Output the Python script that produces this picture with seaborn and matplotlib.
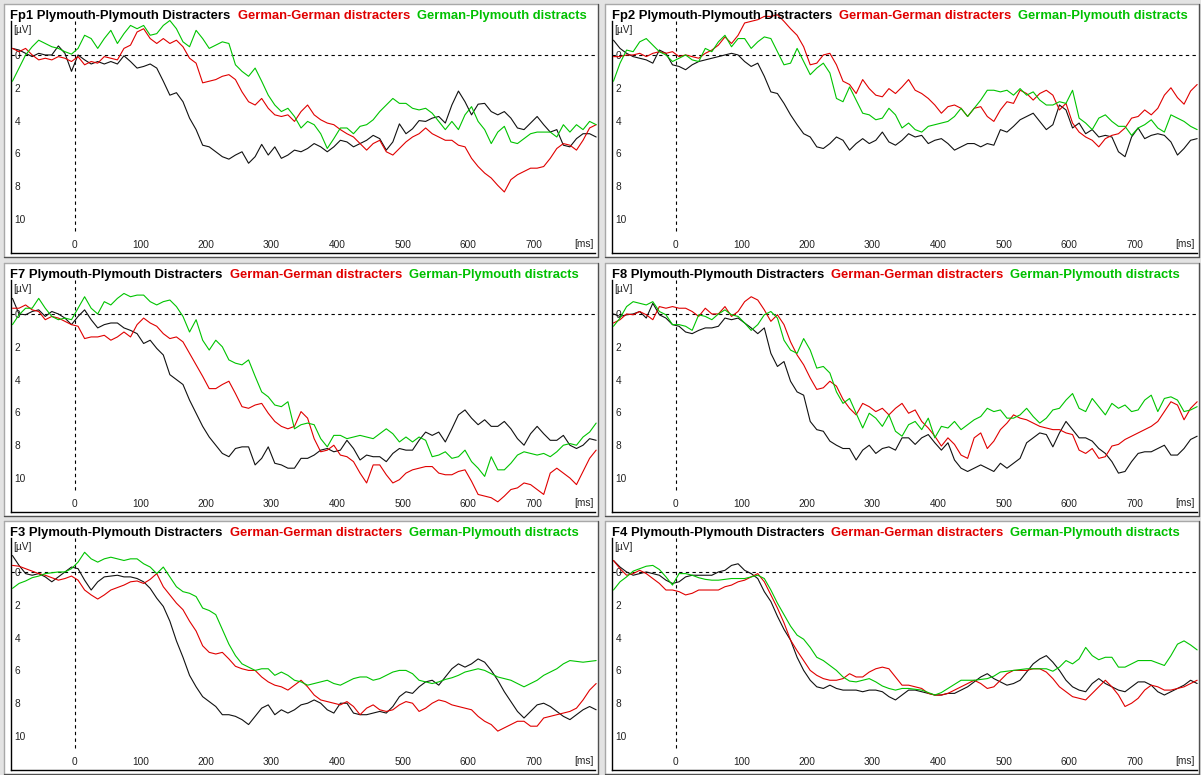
import numpy as np
import pandas as pd
import matplotlib
matplotlib.use("Agg")
import matplotlib.pyplot as plt
import seaborn as sns
from matplotlib.patches import Rectangle
from matplotlib.lines import Line2D

W, H = 1201, 775

# sample times (ms), one value every 10 ms
times = np.arange(-95, 800, 10)

channels = ["Fp1", "Fp2", "F7", "F8", "F3", "F4"]
conditions = ["Plymouth-Plymouth Distracters", "German-German distracters", "German-Plymouth distracts"]
colors = ["#111111", "#e00000", "#00c400"]
title_colors = ["#000000", "#e00000", "#00c000"]

# amplitudes in µV (plotted with negative up)
fp1_pp = [-0.4, -0.3, -0.1, 0.1, -0.1, 0.0, 0.0, -0.55, -0.1, 1.0,
          0.0, 0.3, 0.55, 0.4, 0.55, 0.4, 0.55, 0.05, 0.4, 0.8,
          0.7, 0.55, 0.8, 1.6, 2.45, 2.3, 2.85, 3.85, 4.55, 5.5,
          5.6, 5.9, 6.2, 6.35, 6.1, 5.9, 6.6, 6.2, 5.45, 6.1,
          5.6, 6.3, 6.1, 5.8, 5.9, 5.7, 5.4, 5.6, 5.9, 5.6,
          5.2, 5.3, 5.6, 5.4, 5.2, 4.9, 5.1, 5.8, 5.3, 4.2,
          4.8, 4.5, 4.0, 4.05, 3.85, 3.75, 4.15, 3.05, 2.2, 2.85,
          3.65, 3.0, 2.95, 3.45, 3.65, 3.45, 3.85, 4.45, 4.55, 4.15,
          3.75, 4.25, 4.7, 4.55, 5.5, 5.6, 5.1, 4.8, 4.8, 5.0]
fp1_gg = [-0.4, -0.2, -0.4, 0.0, 0.3, 0.2, 0.3, 0.1, 0.2, 0.4,
          0.1, 0.6, 0.4, 0.5, 0.1, 0.2, 0.3, -0.4, -0.6, -1.4,
          -1.6, -1.0, -0.7, -1.0, -0.7, -0.9, -0.5, 0.2, 0.5, 1.7,
          1.6, 1.5, 1.3, 1.2, 1.5, 2.25, 2.85, 3.05, 2.65, 3.25,
          3.65, 3.75, 3.65, 4.05, 3.45, 3.05, 3.65, 3.95, 4.15, 4.25,
          4.55, 4.8, 5.0, 5.4, 5.8, 5.4, 5.2, 5.9, 6.1, 5.7,
          5.3, 5.0, 4.8, 4.45, 4.8, 5.0, 5.2, 5.2, 5.5, 5.6,
          6.3, 6.8, 7.2, 7.5, 7.95, 8.35, 7.6, 7.3, 7.1, 6.9,
          6.9, 6.8, 6.3, 5.7, 5.4, 5.5, 5.8, 5.2, 4.45, 4.25]
fp1_gp = [1.6, 0.8, 0.0, -0.5, -0.9, -0.7, -0.5, -0.4, -0.2, -0.05,
          -0.4, -1.2, -1.0, -0.4, -1.0, -1.5, -0.7, -1.3, -1.8, -1.6,
          -1.8, -1.2, -1.3, -1.8, -2.1, -1.6, -0.8, -0.5, -1.5, -1.0,
          -0.4, -0.6, -0.8, -0.7, 0.6, 1.0, 1.3, 0.8, 1.6, 2.45,
          3.05, 3.45, 3.25, 3.75, 4.45, 4.05, 4.25, 4.8, 5.7, 5.1,
          4.45, 4.45, 4.8, 4.35, 4.25, 3.95, 3.45, 3.05, 2.65, 2.95,
          2.95, 3.25, 3.35, 3.25, 3.55, 4.05, 4.55, 4.05, 4.55, 3.65,
          3.15, 4.05, 4.55, 5.4, 4.7, 4.35, 5.3, 5.4, 5.1, 4.8,
          4.7, 4.7, 4.7, 5.0, 4.25, 4.7, 4.25, 4.55, 4.05, 4.25]

fp2_pp = [-0.9, -0.4, -0.1, 0.1, 0.2, 0.3, 0.5, -0.3, -0.1, 0.6,
          0.7, 0.9, 0.6, 0.4, 0.3, 0.2, 0.1, 0.0, -0.1, 0.0,
          0.4, 0.7, 0.5, 1.3, 2.25, 2.35, 2.95, 3.65, 4.25, 4.8,
          5.0, 5.6, 5.7, 5.4, 5.0, 5.2, 5.8, 5.4, 5.1, 5.4,
          5.2, 4.7, 5.3, 5.5, 5.2, 4.8, 5.0, 4.9, 5.4, 5.2,
          5.1, 5.4, 5.8, 5.6, 5.4, 5.4, 5.6, 5.4, 5.5, 4.55,
          4.7, 4.35, 3.95, 3.75, 3.55, 4.05, 4.55, 4.25, 3.05, 3.35,
          4.45, 4.15, 4.8, 4.55, 5.0, 4.9, 5.0, 5.9, 6.2, 5.0,
          4.45, 5.1, 4.9, 4.8, 4.9, 5.3, 6.1, 5.7, 5.2, 5.1]
fp2_gg = [0.1, 0.1, 0.0, 0.0, -0.1, 0.1, -0.1, -0.2, -0.1, -0.2,
          0.1, 0.0, 0.1, 0.2, -0.1, -0.3, -0.6, -1.1, -0.7, -1.2,
          -1.95, -2.05, -2.15, -2.35, -2.35, -2.45, -2.05, -1.6, -1.2, -0.5,
          0.6, 0.5, 0.0, -0.1, 0.6, 1.6, 1.8, 2.35, 1.5, 2.05,
          2.45, 2.55, 2.05, 2.35, 1.95, 1.5, 2.15, 2.35, 2.65, 3.05,
          3.55, 3.15, 3.05, 3.25, 3.75, 3.25, 3.15, 3.75, 4.05, 3.35,
          2.85, 2.95, 2.15, 2.35, 2.75, 2.35, 2.15, 2.45, 3.35, 2.95,
          4.15, 4.7, 5.0, 5.2, 5.6, 5.1, 4.9, 4.8, 4.45, 3.85,
          3.75, 3.35, 3.65, 3.25, 2.45, 2.0, 2.6, 3.0, 2.2, 1.8]
fp2_gp = [1.6, 0.5, -0.3, -0.2, -0.8, -1.0, -0.6, -0.2, 0.0, 0.4,
          0.2, 0.0, 0.3, 0.4, -0.4, -0.2, -0.8, -1.2, -0.5, -1.0,
          -1.0, -0.4, -0.8, -1.1, -1.0, -0.2, 0.6, 0.5, -0.4, 0.4,
          1.2, 0.8, 0.5, 1.1, 2.65, 2.85, 1.95, 2.75, 3.55, 3.65,
          3.95, 3.85, 3.25, 3.65, 4.45, 4.15, 4.55, 4.7, 4.35, 4.25,
          4.15, 4.05, 3.75, 3.25, 3.75, 3.25, 2.75, 2.15, 2.15, 2.25,
          2.15, 2.45, 2.05, 2.45, 2.25, 2.75, 3.05, 3.05, 2.85, 2.95,
          2.15, 3.85, 4.15, 4.55, 3.85, 3.65, 4.05, 4.35, 4.35, 4.9,
          4.45, 4.25, 3.95, 4.45, 4.7, 3.65, 3.85, 4.05, 4.35, 4.55]

f7_pp = [-0.95, 0.0, 0.05, -0.15, -0.25, 0.15, -0.15, 0.0, 0.25, 0.65,
         0.15, -0.25, 0.35, 0.85, 0.65, 0.55, 0.55, 0.85, 1.0, 1.2,
         1.8, 1.6, 2.1, 2.5, 3.7, 4.0, 4.3, 5.25, 6.05, 6.85,
         7.5, 8.0, 8.5, 8.7, 8.2, 8.1, 8.1, 9.2, 8.8, 8.1,
         9.1, 9.2, 9.4, 9.4, 8.8, 8.8, 8.6, 8.3, 8.2, 8.4,
         8.3, 7.7, 8.2, 8.9, 8.6, 8.7, 8.7, 9.0, 8.5, 8.2,
         8.3, 8.3, 7.7, 7.2, 7.4, 7.2, 7.8, 7.0, 6.15, 5.85,
         6.35, 6.75, 6.45, 6.85, 6.85, 6.55, 7.0, 7.6, 8.0, 7.3,
         6.85, 7.3, 7.7, 7.7, 7.4, 8.0, 8.2, 8.0, 7.6, 7.7]
f7_gg = [-0.35, -0.35, -0.55, -0.25, -0.15, 0.35, 0.15, 0.25, 0.45, 0.65,
         0.75, 1.5, 1.4, 1.4, 1.3, 1.6, 1.4, 1.1, 1.4, 0.65,
         0.25, 0.55, 0.75, 1.2, 1.5, 1.4, 1.7, 2.4, 3.1, 3.8,
         4.55, 4.55, 4.3, 4.1, 4.85, 5.65, 5.75, 5.55, 5.45, 6.05,
         6.55, 6.85, 7.0, 6.85, 5.95, 6.35, 7.6, 8.4, 8.3, 8.0,
         8.6, 8.7, 9.0, 9.7, 10.3, 9.2, 9.2, 9.8, 10.3, 10.1,
         9.7, 9.5, 9.4, 9.3, 9.3, 9.7, 9.8, 9.8, 9.6, 9.5,
         10.2, 11.0, 11.1, 11.2, 11.45, 11.1, 10.7, 10.6, 10.3, 10.4,
         10.7, 11.0, 9.7, 9.4, 9.7, 10.0, 10.4, 9.6, 8.8, 8.3]
f7_gp = [0.65, 0.05, -0.35, -0.35, -0.95, -0.35, 0.15, 0.35, 0.25, 0.35,
         -0.35, -1.05, -0.35, 0.0, -0.75, -0.55, -0.95, -1.25, -1.05, -1.15,
         -1.15, -0.75, -0.55, -0.75, -0.85, -0.45, 0.15, 1.1, 0.35, 1.6,
         2.2, 1.6, 2.0, 2.8, 3.0, 3.1, 2.8, 3.8, 4.75, 5.05,
         5.55, 5.65, 5.35, 7.0, 6.75, 6.65, 6.75, 7.6, 8.1, 7.4,
         7.4, 7.6, 7.5, 7.4, 7.5, 7.6, 7.3, 7.0, 7.3, 7.8,
         7.5, 7.8, 7.5, 7.7, 8.7, 8.6, 8.4, 8.8, 8.7, 8.3,
         9.0, 9.4, 9.9, 8.7, 9.5, 9.5, 9.1, 8.6, 8.4, 8.5,
         8.6, 8.5, 8.7, 8.4, 8.0, 7.9, 8.0, 7.5, 7.2, 6.65]

f8_pp = [0.0, 0.15, 0.05, 0.0, -0.15, 0.25, -0.65, 0.05, 0.25, 0.65,
         0.75, 1.1, 1.2, 1.0, 0.85, 0.85, 0.75, 0.25, 0.35, 0.25,
         0.55, 0.85, 1.2, 0.85, 2.4, 3.2, 2.9, 4.1, 4.75, 4.95,
         6.55, 7.05, 7.15, 7.75, 8.0, 8.2, 8.2, 8.9, 8.3, 8.0,
         8.5, 8.2, 8.1, 8.3, 7.55, 7.55, 7.95, 7.55, 7.35, 7.85,
         8.3, 7.85, 8.9, 9.4, 9.6, 9.4, 9.2, 9.4, 9.6, 9.1,
         9.4, 9.1, 8.8, 7.85, 7.55, 7.25, 7.35, 8.1, 7.25, 6.55,
         7.05, 7.55, 7.55, 7.75, 8.2, 8.5, 9.0, 9.7, 9.6, 9.0,
         8.5, 8.4, 8.4, 8.2, 8.0, 8.6, 8.6, 8.2, 7.65, 7.45]
f8_gg = [0.55, 0.35, 0.0, 0.05, -0.15, 0.05, 0.35, -0.45, -0.35, -0.45,
         -0.35, -0.35, -0.15, 0.15, -0.35, 0.0, 0.0, -0.45, 0.15, -0.15,
         -0.75, -1.05, -0.85, -0.25, 0.45, 0.05, 0.65, 1.7, 2.5, 3.1,
         3.9, 4.6, 4.5, 4.1, 4.4, 5.2, 5.75, 6.15, 5.45, 5.65,
         5.95, 5.75, 6.15, 5.75, 5.45, 6.05, 5.85, 6.55, 6.95, 7.45,
         8.05, 7.55, 7.95, 8.6, 8.8, 7.55, 7.25, 8.2, 7.75, 7.05,
         6.65, 6.15, 6.35, 6.45, 6.65, 6.85, 6.95, 7.05, 7.05, 7.25,
         7.35, 8.3, 8.5, 8.2, 8.8, 8.7, 8.05, 7.95, 7.65, 7.45,
         7.25, 7.05, 6.85, 6.55, 5.95, 5.35, 5.55, 6.45, 5.75, 5.35]
f8_gp = [0.75, 0.25, -0.45, -0.75, -0.65, -0.55, -0.75, -0.15, 0.05, 0.65,
         0.65, 0.75, 1.0, 0.05, 0.15, 0.35, 0.0, -0.25, 0.05, 0.15,
         0.55, 1.0, 0.65, 0.05, -0.15, 0.25, 1.6, 2.2, 2.4, 1.5,
         2.2, 3.3, 3.2, 3.6, 4.75, 5.45, 5.15, 6.05, 6.95, 6.05,
         6.35, 6.85, 6.15, 7.15, 7.45, 6.75, 6.55, 7.05, 6.35, 7.55,
         6.85, 6.95, 6.55, 7.05, 6.75, 6.45, 6.25, 5.75, 5.95, 5.85,
         6.35, 6.35, 6.15, 5.75, 6.25, 6.65, 6.35, 5.85, 5.75, 5.25,
         4.85, 5.75, 5.95, 5.15, 5.65, 6.15, 5.45, 5.75, 5.55, 5.95,
         5.85, 5.25, 4.95, 5.95, 5.15, 5.05, 5.25, 5.95, 5.85, 5.65]

f3_pp = [-1.0, -0.4, 0.1, 0.2, 0.1, 0.3, 0.6, 0.3, 0.0, -0.3,
         -0.2, 0.5, 1.1, 0.6, 0.3, 0.25, 0.2, 0.3, 0.3, 0.4,
         0.6, 1.0, 1.6, 2.1, 3.0, 4.2, 5.2, 6.3, 7.0, 7.6,
         7.9, 8.2, 8.7, 8.7, 8.8, 9.0, 9.3, 8.8, 8.3, 8.1,
         8.7, 8.4, 8.6, 8.4, 8.1, 8.0, 7.8, 8.0, 8.4, 8.6,
         8.0, 8.0, 8.6, 8.7, 8.7, 8.6, 8.5, 8.6, 8.2, 7.6,
         7.3, 7.4, 7.0, 6.7, 6.6, 6.9, 6.4, 5.9, 5.6, 5.8,
         5.6, 5.3, 5.5, 6.0, 6.6, 7.3, 7.9, 8.5, 8.9, 8.5,
         8.1, 8.0, 8.2, 8.5, 8.8, 9.0, 8.7, 8.4, 8.2, 8.4]
f3_gg = [-0.4, -0.35, -0.2, -0.05, 0.1, 0.2, 0.35, 0.5, 0.4, 0.25,
         0.5, 1.1, 1.4, 1.65, 1.4, 1.1, 0.95, 0.8, 0.6, 0.55,
         0.7, 0.45, 0.1, 0.9, 1.4, 1.9, 2.3, 3.0, 3.6, 4.5,
         4.9, 5.0, 4.9, 5.3, 5.75, 5.9, 6.0, 6.0, 6.4, 6.7,
         6.9, 7.0, 7.2, 6.9, 6.6, 7.0, 7.5, 7.8, 7.9, 8.0,
         8.1, 7.9, 8.2, 8.7, 8.3, 8.1, 8.4, 8.5, 8.4, 8.1,
         7.9, 8.0, 8.5, 8.3, 8.0, 7.8, 7.9, 8.1, 8.2, 8.3,
         8.4, 8.8, 9.1, 9.3, 9.7, 9.5, 9.3, 9.1, 9.1, 9.4,
         9.4, 8.9, 8.8, 8.7, 8.6, 8.5, 8.3, 7.8, 7.2, 6.8]
f3_gp = [1.0, 0.7, 0.55, 0.35, 0.25, 0.1, 0.05, 0.0, 0.0, -0.2,
         -0.6, -1.2, -0.8, -0.6, -0.8, -0.9, -0.8, -0.7, -0.8, -0.8,
         -0.5, -0.3, 0.1, -0.3, 0.3, 0.9, 1.2, 1.3, 1.5, 2.2,
         2.35, 2.6, 3.5, 4.4, 5.1, 5.6, 5.8, 6.0, 5.9, 5.9,
         6.3, 6.1, 6.3, 6.6, 6.7, 6.9, 6.8, 6.7, 6.6, 6.8,
         6.9, 6.7, 6.5, 6.4, 6.4, 6.6, 6.5, 6.3, 6.1, 6.0,
         6.0, 6.2, 6.6, 6.7, 6.8, 6.7, 6.55, 6.45, 6.3, 6.1,
         6.0, 5.9, 6.0, 6.2, 6.4, 6.5, 6.6, 6.8, 7.0, 6.8,
         6.6, 6.3, 6.1, 5.9, 5.6, 5.4, 5.45, 5.5, 5.45, 5.4]

f4_pp = [-0.7, -0.3, 0.0, 0.2, 0.1, 0.0, 0.1, 0.2, 0.5, 0.7,
         0.6, 0.3, 0.2, 0.2, 0.2, 0.2, 0.0, -0.1, -0.4, -0.5,
         -0.1, 0.1, 0.4, 1.2, 1.8, 2.7, 3.5, 4.15, 5.2, 6.0,
         6.6, 7.0, 7.1, 6.9, 7.1, 7.2, 7.2, 7.2, 7.3, 7.2,
         7.2, 7.3, 7.6, 7.8, 7.5, 7.2, 7.2, 7.3, 7.4, 7.5,
         7.5, 7.4, 7.4, 7.2, 7.0, 6.7, 6.4, 6.2, 6.5, 6.7,
         6.9, 6.8, 6.6, 6.1, 5.6, 5.3, 5.1, 5.5, 6.0, 6.6,
         7.0, 7.2, 7.3, 6.8, 6.5, 6.8, 7.0, 7.2, 7.3, 7.0,
         6.7, 6.7, 6.9, 7.3, 7.5, 7.3, 7.1, 6.9, 6.6, 6.8]
f4_gg = [-0.7, -0.2, 0.2, 0.1, -0.1, 0.1, 0.4, 0.7, 1.1, 1.1,
         1.2, 1.4, 1.3, 1.1, 1.1, 1.1, 1.1, 0.9, 0.8, 0.6,
         0.5, 0.3, 0.1, 0.6, 1.4, 2.2, 3.1, 4.15, 4.8, 5.4,
         6.0, 6.3, 6.5, 6.6, 6.6, 6.5, 6.2, 6.4, 6.4, 6.1,
         5.9, 5.8, 5.9, 6.4, 6.9, 6.9, 7.0, 7.1, 7.4, 7.5,
         7.5, 7.4, 7.2, 7.0, 6.8, 6.6, 6.8, 7.1, 7.0, 6.6,
         6.2, 6.0, 6.0, 6.0, 5.9, 5.9, 6.1, 6.5, 7.0, 7.3,
         7.6, 7.7, 7.8, 7.4, 7.0, 6.6, 7.0, 7.5, 8.2, 8.0,
         7.7, 7.2, 6.9, 7.0, 7.2, 7.2, 7.1, 7.0, 6.8, 6.6]
f4_gp = [1.1, 0.6, 0.3, -0.05, -0.2, -0.35, -0.4, -0.15, 0.3, 0.8,
         0.1, 0.1, 0.2, 0.35, 0.45, 0.5, 0.5, 0.45, 0.4, 0.4,
         0.4, 0.3, 0.2, 0.4, 1.1, 1.9, 2.6, 3.3, 3.85, 4.1,
         4.6, 5.2, 5.4, 5.7, 6.0, 6.4, 6.65, 6.7, 6.6, 6.5,
         6.7, 6.95, 7.1, 7.2, 7.1, 7.1, 7.15, 7.2, 7.35, 7.5,
         7.35, 7.1, 6.85, 6.6, 6.6, 6.6, 6.55, 6.5, 6.35, 6.1,
         6.05, 6.0, 5.95, 5.9, 5.9, 5.9, 5.9, 6.05, 5.8, 5.4,
         5.6, 5.3, 4.6, 5.1, 5.35, 5.2, 5.2, 5.8, 5.8, 5.6,
         5.4, 5.4, 5.4, 5.55, 5.7, 5.1, 4.4, 4.2, 4.45, 4.75]

series = {
    "Fp1": [fp1_pp, fp1_gg, fp1_gp],
    "Fp2": [fp2_pp, fp2_gg, fp2_gp],
    "F7": [f7_pp, f7_gg, f7_gp],
    "F8": [f8_pp, f8_gg, f8_gp],
    "F3": [f3_pp, f3_gg, f3_gp],
    "F4": [f4_pp, f4_gg, f4_gp],
}

X_LIM = (-98, 794)
Y_LIM = (12.07, -2.07)
ROW_TOPS = [0, 259, 517]
COL_LEFTS = [0, 601]


def px_axes(fig, left, top, right, bottom):
    return fig.add_axes([left / W, 1 - bottom / H, (right - left) / W, (bottom - top) / H])


def panel_frame(fig, x0, y0, x1, y1):
    # white box with a sunken look: light top/left, dark right/bottom
    fig.patches.append(Rectangle((x0, H - y1), x1 - x0, y1 - y0, transform=None,
                                 facecolor="white", edgecolor="none", zorder=-5))
    light = dict(color="#a8a8a8", lw=1.0, transform=None, zorder=-4)
    dark = dict(color="#505050", lw=1.0, transform=None, zorder=-4)
    fig.lines.append(Line2D([x0, x1], [H - y0, H - y0], **light))
    fig.lines.append(Line2D([x0, x0], [H - y0, H - y1], **light))
    fig.lines.append(Line2D([x1, x1], [H - y0, H - y1], **dark))
    fig.lines.append(Line2D([x0, x1], [H - y1, H - y1], **dark))


def main():
    sns.set_theme(style="white")
    plt.rcParams["font.family"] = ["Liberation Sans", "DejaVu Sans"]

    fig = plt.figure(figsize=(W / 100, H / 100), dpi=100)
    fig.patch.set_facecolor("#e3e3e3")
    renderer = fig.canvas.get_renderer()
    palette = dict(zip(conditions, colors))

    for i, ch in enumerate(channels):
        r, c = divmod(i, 2)
        ox = COL_LEFTS[c]
        oy = ROW_TOPS[r]

        panel_frame(fig, ox + 3.5, oy + 3.5, ox + 597.5, oy + 256.5)

        ax = px_axes(fig, ox + 10.5, oy + 21, ox + 595.5, oy + 253)
        ax.set_facecolor("none")

        df = pd.DataFrame({
            "time": np.tile(times, 3),
            "uV": np.concatenate(series[ch]),
            "condition": np.repeat(conditions, len(times)),
        })
        sns.lineplot(data=df, x="time", y="uV", hue="condition", hue_order=conditions,
                     palette=palette, estimator=None, errorbar=None, legend=False,
                     lw=0.8, ax=ax, clip_on=False, zorder=3)

        ax.set_xlim(*X_LIM)
        ax.set_ylim(*Y_LIM)
        ax.set_xlabel("")
        ax.set_ylabel("")

        ax.axhline(0, color="black", lw=0.8, ls=(0, (3, 3)), zorder=2)
        ax.vlines(0, 10.7, Y_LIM[1], color="black", lw=0.8, ls=(0, (3, 3)), zorder=2)

        for s in ("top", "right"):
            ax.spines[s].set_visible(False)
        for s in ("left", "bottom"):
            ax.spines[s].set_color("black")
            ax.spines[s].set_linewidth(1.0)

        ax.set_xticks(range(0, 701, 100))
        ax.set_xticks(range(-90, 791, 10), minor=True)
        ax.set_yticks(range(0, 11, 2))
        ax.set_yticks(range(-2, 13), minor=True)
        ax.tick_params(axis="x", which="both", direction="in", length=2, width=0.8,
                       color="black", pad=-9.5, labelsize=7.3, labelcolor="#222222")
        ax.tick_params(axis="x", which="major", length=3)
        ax.tick_params(axis="y", which="both", direction="in", length=3, width=0.8,
                       color="black", pad=-3.0, labelsize=7.3, labelcolor="#222222")
        for lab in ax.get_yticklabels():
            lab.set_horizontalalignment("left")

        ax.annotate("[µV]", xy=(0, 1), xycoords="axes fraction", xytext=(3, -4),
                    textcoords="offset pixels", ha="left", va="top", fontsize=7.3, color="#222222")
        ax.annotate("[ms]", xy=(1, 0), xycoords="axes fraction", xytext=(-2, 4),
                    textcoords="offset pixels", ha="right", va="bottom", fontsize=7.3, color="#222222")

        # title: three coloured parts on one baseline
        parts = [f"{ch} {conditions[0]}", conditions[1], conditions[2]]
        tx = ox + 10.5
        ty = H - (oy + 19)
        for part, col in zip(parts, title_colors):
            t = fig.text(tx / W, ty / H, part, color=col, fontsize=9.35, fontweight="bold",
                         ha="left", va="baseline")
            tx += t.get_window_extent(renderer).width + 7

    fig.savefig("out.png", dpi=100, facecolor=fig.get_facecolor())


if __name__ == "__main__":
    main()
